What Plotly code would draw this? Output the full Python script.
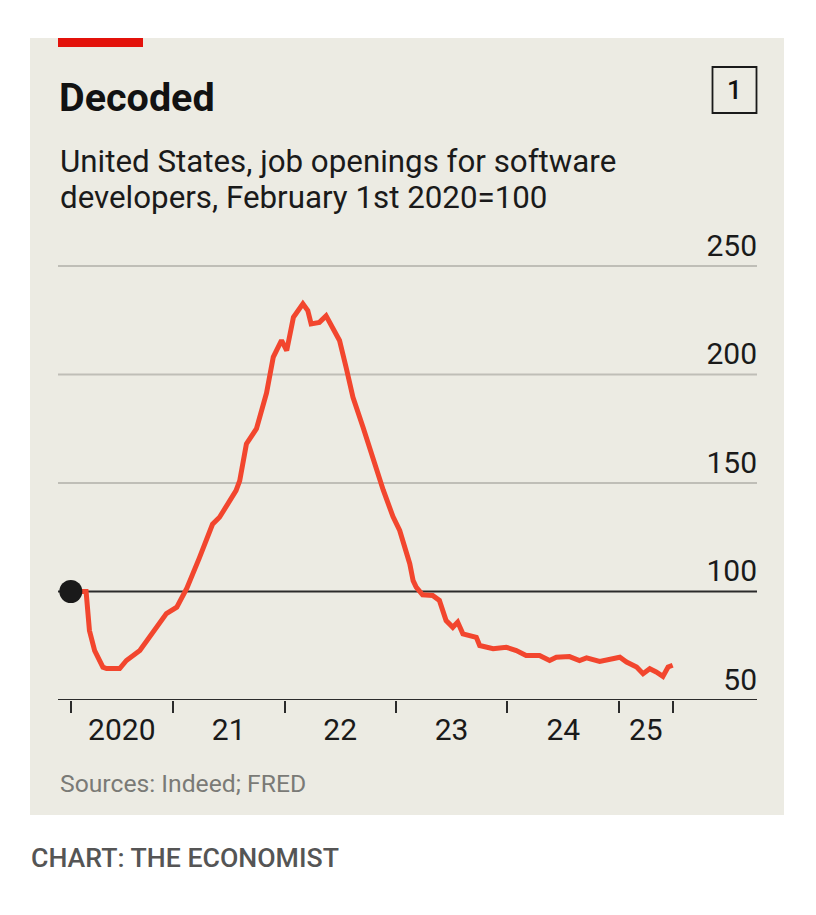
import plotly.graph_objects as go

# ---- data ----
dates = [
    "2020-02-01", "2020-03-22", "2020-04-02", "2020-04-19", "2020-05-16", "2020-05-28",
    "2020-07-10", "2020-08-01", "2020-09-14", "2020-10-26", "2020-12-10", "2021-01-13",
    "2021-02-15", "2021-03-28", "2021-05-10", "2021-06-02", "2021-07-26", "2021-08-07",
    "2021-08-29", "2021-10-01", "2021-11-03", "2021-11-25", "2021-12-22", "2022-01-08",
    "2022-01-30", "2022-03-02", "2022-03-18", "2022-03-29", "2022-04-25", "2022-05-17",
    "2022-06-08", "2022-06-30", "2022-07-22", "2022-08-13", "2022-09-15", "2022-10-18",
    "2022-11-20", "2022-12-22", "2023-01-13", "2023-02-15", "2023-02-26", "2023-03-08",
    "2023-03-29", "2023-05-01", "2023-05-23", "2023-06-14", "2023-07-06", "2023-07-22",
    "2023-08-08", "2023-09-21", "2023-10-02", "2023-11-15", "2023-12-28", "2024-01-30",
    "2024-03-02", "2024-04-15", "2024-05-18", "2024-06-09", "2024-07-22", "2024-08-24",
    "2024-09-16", "2024-10-29", "2024-12-12", "2025-01-03", "2025-01-25", "2025-02-27",
    "2025-03-20", "2025-04-11", "2025-05-02", "2025-05-24", "2025-06-10", "2025-06-25",
]
values = [
    100.0, 100.0, 82.0, 72.8, 65.1, 64.5,
    64.5, 68.2, 72.8, 80.6, 89.8, 92.8,
    101.5, 115.5, 131.0, 134.2, 146.5, 151.0,
    168.0, 175.0, 191.5, 208.0, 215.7, 211.0,
    226.4, 232.6, 229.5, 223.3, 224.0, 227.0,
    221.8, 215.7, 203.0, 189.5, 175.7, 160.8,
    146.8, 134.5, 128.1, 112.8, 105.0, 102.0,
    98.5, 98.2, 95.9, 86.6, 83.5, 85.9,
    80.5, 78.9, 75.1, 73.6, 74.3, 72.8,
    70.5, 70.5, 68.2, 69.7, 70.0, 68.2,
    69.4, 67.8, 69.0, 69.7, 67.5, 65.2,
    62.1, 64.4, 62.9, 60.9, 65.2, 66.0,
]
y_ticks = [50, 100, 150, 200, 250]
x_tick_boundaries = ["2020-02-01", "2021-01-01", "2022-01-01", "2023-01-01",
                     "2024-01-01", "2025-01-01", "2025-06-25"]
x_label_positions = ["2020-07-17", "2021-07-02", "2022-07-02", "2023-07-02",
                     "2024-07-02", "2025-03-29"]
x_labels = ["2020", "21", "22", "23", "24", "25"]
baseline_value = 100

# the page body adds an 8px margin, so the figure is 800x899 and
# target page pixel coordinates are shifted by 8px
OFF = 8
W, H = 816 - 2 * OFF, 915 - 2 * OFF
BG = "#ECEBE3"
LINE = "#F2462E"
DARK = "#2B2B2B"
GRID = "#BFBEB7"
FONT = "Roboto"

def px(x):
    return (x - OFF) / W

def py(y):
    return 1 - (y - OFF) / H

# y axis: 50 at page y=700, 250 at page y=266; extend range a bit above 250
Y_TOP_VAL = 270
y_top_px = 700 - (Y_TOP_VAL - 50) * (700 - 266) / 200
GRID_X0, GRID_X1 = px(58), px(757)

fig = go.Figure()
fig.add_trace(go.Scatter(
    x=dates, y=values, mode="lines",
    line=dict(color=LINE, width=5, shape="linear"),
    cliponaxis=False, hoverinfo="skip", showlegend=False,
))
fig.add_trace(go.Scatter(
    x=[dates[0]], y=[values[0]], mode="markers",
    marker=dict(color="#1A1A1A", size=23),
    cliponaxis=False, hoverinfo="skip", showlegend=False,
))

shapes = [
    dict(type="rect", xref="paper", yref="paper", x0=px(30), x1=px(784), y0=py(815), y1=py(38),
         fillcolor=BG, line=dict(width=0), layer="below"),
    dict(type="rect", xref="paper", yref="paper", x0=px(58), x1=px(143), y0=py(47), y1=py(38),
         fillcolor="#E3120B", line=dict(width=0), layer="below"),
    dict(type="rect", xref="paper", yref="paper", x0=px(712.5), x1=px(756.5), y0=py(113), y1=py(67),
         fillcolor="rgba(0,0,0,0)", line=dict(color="#1A1A1A", width=1.8)),
]
for v in y_ticks:
    if v == y_ticks[0] or v == baseline_value:
        col, w = DARK, 2
    else:
        col, w = GRID, 1.8
    shapes.append(dict(type="line", xref="paper", yref="y", x0=GRID_X0, x1=GRID_X1,
                       y0=v, y1=v, line=dict(color=col, width=w), layer="below"))

annotations = [
    dict(text="<b>Decoded</b>", x=px(57), y=py(97), xanchor="left", yanchor="middle",
         font=dict(family=FONT, size=39.5, color="#121212")),
    dict(text="1", x=px(734.5), y=py(90), xanchor="center", yanchor="middle",
         font=dict(family=FONT, size=26, color="#121212", weight=500)),
    dict(text="United States, job openings for software", x=px(58), y=py(161), xanchor="left",
         yanchor="middle", font=dict(family=FONT, size=31.3, color="#1A1A1A")),
    dict(text="developers, February 1st 2020=100", x=px(58), y=py(197.5), xanchor="left",
         yanchor="middle", font=dict(family=FONT, size=31.3, color="#1A1A1A")),
    dict(text="Sources: Indeed; FRED", x=px(58), y=py(783.5), xanchor="left", yanchor="middle",
         font=dict(family=FONT, size=24.7, color="#7A7A76")),
    dict(text="CHART: THE ECONOMIST", x=px(29), y=py(857.5), xanchor="left", yanchor="middle",
         font=dict(family=FONT, size=26.7, color="#555555", weight=500)),
]
for a in annotations:
    a.update(xref="paper", yref="paper", showarrow=False)

fig.update_layout(
    width=W, height=H,
    margin=dict(l=0, r=0, t=0, b=0),
    paper_bgcolor="white", plot_bgcolor="rgba(0,0,0,0)",
    shapes=shapes, annotations=annotations,
    showlegend=False,
    xaxis=dict(
        domain=[px(58), px(760)],
        type="date",
        range=["2019-12-21", "2026-04-07"],
        tickmode="array", tickvals=x_label_positions, ticktext=x_labels,
        ticks="", ticklen=0, ticklabelstandoff=9,
        tickfont=dict(family=FONT, size=30, color="#1A1A1A"),
        showgrid=False, zeroline=False, showline=False,
        minor=dict(tickmode="array", tickvals=x_tick_boundaries, ticks="outside",
                   ticklen=12, tickwidth=2, tickcolor=DARK, showgrid=False),
        fixedrange=True,
    ),
    yaxis=dict(
        domain=[py(700), py(y_top_px)],
        range=[50, Y_TOP_VAL],
        side="right",
        tickmode="array", tickvals=y_ticks,
        ticklabelposition="inside top",
        ticks="",
        tickfont=dict(family=FONT, size=30, color="#1A1A1A"),
        showgrid=False, zeroline=False, showline=False,
        fixedrange=True,
    ),
)

fig.write_html("out.html")
